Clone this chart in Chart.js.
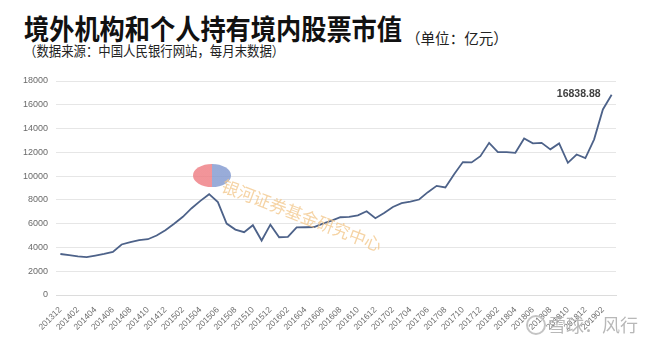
<!DOCTYPE html>
<html>
<head>
<meta charset="utf-8">
<script src="https://cdn.jsdelivr.net/npm/chart.js@4.4.1/dist/chart.umd.min.js"></script>
<style>
  html, body { margin: 0; padding: 0; background: #fff; }
  body { width: 660px; height: 344px; position: relative; overflow: hidden; font-family: "Noto Sans CJK SC", sans-serif; }
  .txt { position: absolute; white-space: nowrap; transform-origin: left center; }
  #title { left: 24px; top: 14px; font-size: 28px; line-height: 28px; font-weight: bold; color: #111; transform: scaleX(0.9); }
  #unit { left: 406px; top: 30px; font-size: 15px; line-height: 15px; color: #222; transform: scaleX(0.97); }
  #source { left: 24px; top: 43px; font-size: 14px; line-height: 14px; color: #222; transform: scaleX(0.885); }
  #wrap { position: absolute; left: 0; top: 62px; width: 660px; height: 282px; }
  #wm1 { left: 226px; top: 176px; font-size: 17px; line-height: 17px; color: #f3c98f; opacity: 0.8; transform: rotate(21deg); transform-origin: left top; }
  #logo { position: absolute; left: 193px; top: 164px; width: 38px; height: 23px; border-radius: 50%;
          background: linear-gradient(90deg, #ee7a80 0%, #ee7a80 50%, #7f97cf 50%, #7f97cf 100%); opacity: 0.8; }
  #wm2 { left: 548px; top: 315px; font-size: 18px; line-height: 18px; color: #b8b8b8; }
  #wm2c { position: absolute; left: 526px; top: 315px; width: 16px; height: 16px; border: 2px solid #c4c4c4; border-radius: 50%; }
</style>
</head>
<body>
<div class="txt" id="title">境外机构和个人持有境内股票市值</div>
<div class="txt" id="unit">（单位：亿元）</div>
<div class="txt" id="source">（数据来源：中国人民银行网站，每月末数据）</div>
<div id="wrap"><canvas id="myChart"></canvas></div>
<div id="logo"></div>
<div class="txt" id="wm1">银河证券基金研究中心</div>
<div id="wm2c"></div>
<div class="txt" id="wm2">雪球：风行</div>
<script>
// month-end labels, 201312 .. 201903
const months = [
  '201312',
  '201401', '201402', '201403', '201404', '201405', '201406', '201407', '201408', '201409', '201410', '201411', '201412',
  '201501', '201502', '201503', '201504', '201505', '201506', '201507', '201508', '201509', '201510', '201511', '201512',
  '201601', '201602', '201603', '201604', '201605', '201606', '201607', '201608', '201609', '201610', '201611', '201612',
  '201701', '201702', '201703', '201704', '201705', '201706', '201707', '201708', '201709', '201710', '201711', '201712',
  '201801', '201802', '201803', '201804', '201805', '201806', '201807', '201808', '201809', '201810', '201811', '201812',
  '201901', '201902', '201903'
];

// 境外持有股票市值 (亿元)
const holdings = [
  3450,
  3350, 3240, 3180, 3320, 3460, 3620, 4250, 4440, 4610, 4690, 5000, 5450,
  5990, 6580, 7300, 7920, 8480, 7810, 6010, 5500, 5280, 5870, 4580, 5920,
  4860, 4890, 5680, 5700, 5720, 6000, 6260, 6540, 6570, 6700, 7050, 6460,
  6900, 7400, 7720, 7850, 8030, 8650, 9180, 9050, 10160, 11180, 11150, 11680,
  12800, 12020, 12020, 11960, 13170, 12760, 12800, 12250, 12750, 11120, 11820, 11510,
  13090, 15610, 16838.88
];

const yTicks = [0, 2000, 4000, 6000, 8000, 10000, 12000, 14000, 16000, 18000];

// label on the last point
const lastLabel = {
    id: 'lastLabel',
    afterDatasetsDraw(chart) {
        const meta = chart.getDatasetMeta(0);
        const pt = meta.data[meta.data.length - 1];
        const ctx = chart.ctx;
        ctx.save();
        ctx.font = 'bold 10.5px "Liberation Sans"';
        ctx.fillStyle = '#404040';
        ctx.textAlign = 'right';
        ctx.textBaseline = 'middle';
        ctx.fillText(holdings[holdings.length - 1].toFixed(2), pt.x - 11, pt.y - 1);
        ctx.restore();
    }
};

const data = {
    labels: months,
    datasets: [{
        data: holdings,
        borderColor: '#4d6289',
        borderWidth: 1.8,
        pointRadius: 0,
        tension: 0,
        fill: false
    }]
};

const config = {
    type: 'line',
    data: data,
    plugins: [lastLabel],
    options: {
        responsive: true,
        maintainAspectRatio: false,
        animation: false,
        layout: { padding: { top: 19, right: 44, left: 0, bottom: 0 } },
        plugins: {
            legend: { display: false },
            tooltip: { enabled: false }
        },
        scales: {
            x: {
                offset: true,
                grid: { display: false },
                border: { color: '#dcdcdc' },
                ticks: {
                    autoSkip: false,
                    maxRotation: 45,
                    minRotation: 45,
                    padding: 2,
                    color: '#6e6e6e',
                    font: { size: 8.5, family: 'Liberation Sans' },
                    callback: (v, i) => (i % 2 === 0 ? months[i] : '')
                },
                afterFit: (scale) => { scale.height = 49; }
            },
            y: {
                min: 0,
                max: 18000,
                afterBuildTicks: (scale) => { scale.ticks = yTicks.map(v => ({ value: v })); },
                grid: { color: '#e6e6e6', drawTicks: false },
                border: { display: false },
                ticks: {
                    padding: 8,
                    color: '#6a6a6a',
                    font: { size: 9, family: 'Liberation Sans' },
                    callback: (v) => String(v)
                },
                afterFit: (scale) => { scale.width = 56; }
            }
        }
    }
};

const ctx = document.getElementById('myChart').getContext('2d');
const myChart = new Chart(ctx, config);
</script>
</body>
</html>
